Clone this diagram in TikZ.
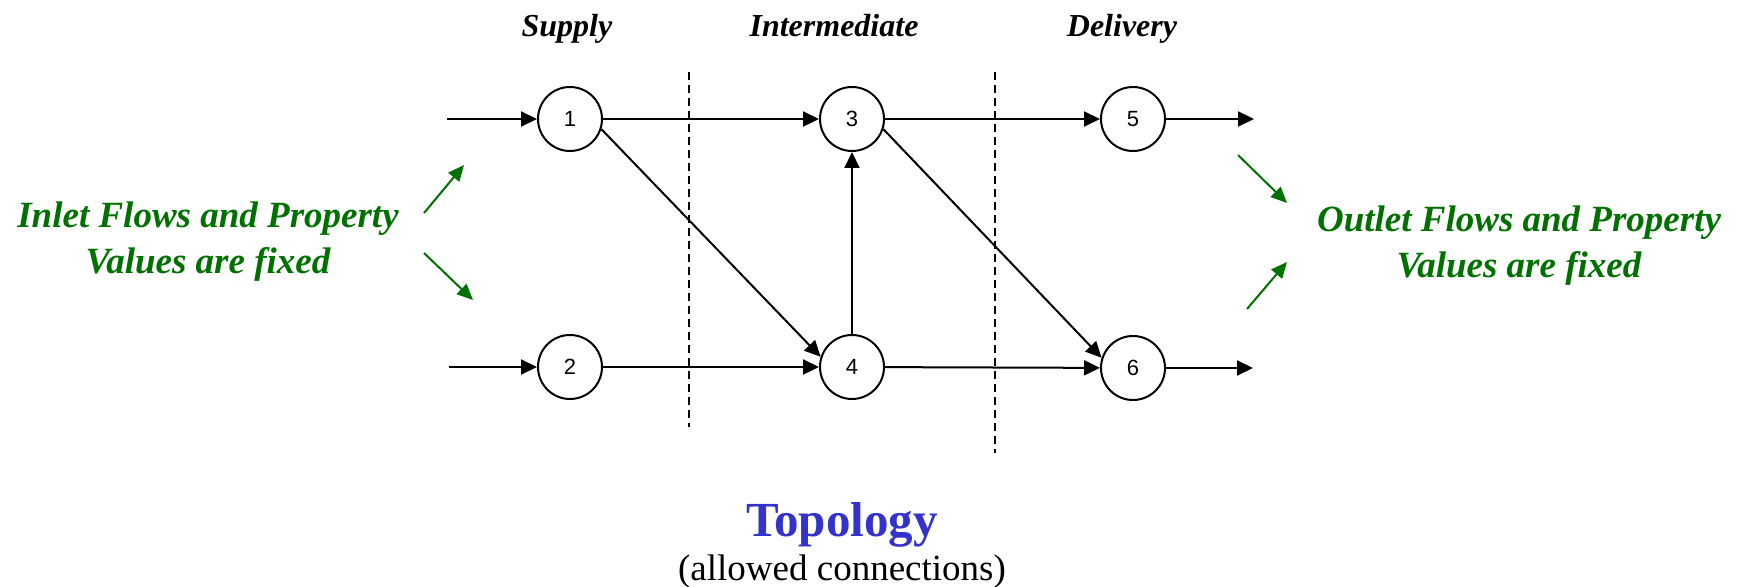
\documentclass[tikz,border=0pt]{standalone}
\usepackage{fontspec}
\setmainfont{Liberation Serif}
\newfontfamily\numfont{Liberation Sans}
\usetikzlibrary{arrows.meta,positioning}
\definecolor{fixgreen}{RGB}{0,112,0}
\definecolor{topoblue}{RGB}{51,51,204}
\tikzset{
  junc/.style={draw,circle,line width=1pt,minimum size=32pt,inner sep=0pt,font=\numfont\fontsize{11}{13}\selectfont},
  stage/.style={font=\fontsize{16}{19}\selectfont\bfseries\itshape,anchor=base},
  note/.style={font=\fontsize{18.5}{23}\selectfont\bfseries\itshape,text=fixgreen,align=center},
  arr/.style={-{Triangle[length=8pt,width=7.5pt]},line width=1pt},
  garr/.style={-{Triangle[length=8pt,width=7pt]},line width=1pt,draw=fixgreen,fill=fixgreen},
  sep/.style={dash pattern=on 4pt off 2.5pt,line width=0.9pt},
}
\begin{document}
\begin{tikzpicture}[x=0.5pt,y=-0.5pt]
\useasboundingbox (0,0) rectangle (1740,587);
% stage headings
\node[stage] (hsup) at (567,37) {Supply};
\node[stage] (hint) at (834,37) {Intermediate};
\node[stage] (hdel) at (1122,37) {Delivery};
% stage separators
\draw[sep] (689,72) -- (689,427);
\draw[sep] (995,72) -- (995,453);
% junctions
\foreach \n/\x/\y in {1/570/119,2/570/367,3/852/119,4/852/367,5/1133/119,6/1133/368}
  \node[junc] (n\n) at (\x,\y) {\n};
\coordinate (in1) at (447,119);
\coordinate (in2) at (449,367);
\coordinate (out5) at (1254,119);
\coordinate (out6) at (1253,368);
\draw[arr] (in1) -- (n1);
\draw[arr] (in2) -- (n2);
\foreach \a/\b in {n1/n3,n2/n4,n4/n3,n3/n5,n4/n6,n5/out5,n6/out6}
  \draw[arr] (\a) -- (\b);
% crossing links leave and enter off-centre
\draw[arr] (n1.-18) -- (n4.162);
\draw[arr] (n3.-18) -- (n6.162);
% fixed boundary notes
\node[note] (inl) at (208,242) {Inlet Flows and Property\\Values are fixed};
\node[note] (outl) at (1519,246) {Outlet Flows and Property\\Values are fixed};
\draw[garr] (424,213) -- (464,165);
\draw[garr] (424,253) -- (473,300);
\draw[garr] (1238,155) -- (1287,203);
\draw[garr] (1247,309) -- (1287,262);
% caption
\node[font=\fontsize{24.5}{28}\selectfont\bfseries,text=topoblue,anchor=base] (topo) at (842,536) {Topology};
\node[font=\fontsize{18.5}{22}\selectfont,anchor=base] (allow) at (842,580) {(allowed connections)};
\end{tikzpicture}
\end{document}
